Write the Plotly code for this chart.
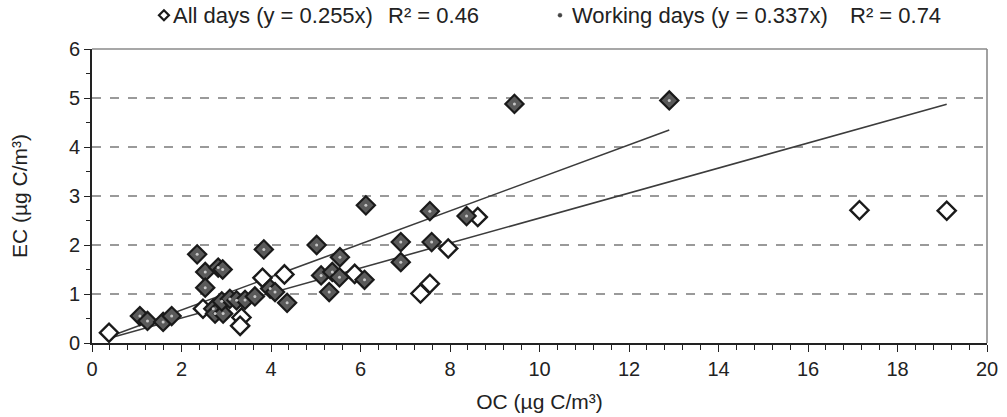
import plotly.graph_objects as go

# Working days (filled diamonds)
work_oc = [1.07, 1.24, 1.59, 1.78, 2.35, 2.53, 2.53, 2.82, 2.92, 2.71, 2.75, 2.93,
           2.90, 3.08, 3.23, 3.42, 3.64, 3.84, 3.98, 4.09, 4.36, 5.02, 5.12, 5.30,
           5.37, 5.54, 5.53, 6.09, 6.12, 6.90, 6.90, 7.55, 7.59, 8.37, 9.44, 12.90]
work_ec = [0.55, 0.45, 0.43, 0.55, 1.81, 1.45, 1.13, 1.54, 1.50, 0.70, 0.60, 0.60,
           0.85, 0.90, 0.87, 0.88, 0.95, 1.91, 1.11, 1.04, 0.82, 2.00, 1.38, 1.04,
           1.45, 1.75, 1.34, 1.29, 2.81, 2.06, 1.65, 2.69, 2.06, 2.59, 4.88, 4.95]

# Other (non-working) days (open diamonds)
other_oc = [0.38, 2.48, 2.85, 3.34, 3.31, 3.81, 4.30, 5.87, 7.34, 7.55, 7.96, 8.62, 17.15, 19.10]
other_ec = [0.21, 0.70, 0.78, 0.52, 0.35, 1.33, 1.40, 1.41, 1.01, 1.21, 1.93, 2.57, 2.71, 2.70]

slope_all = 0.255
slope_work = 0.337
r2_all = 0.46
r2_work = 0.74

x_ticks = [0, 2, 4, 6, 8, 10, 12, 14, 16, 18, 20]
y_ticks = [0, 1, 2, 3, 4, 5, 6]

all_oc = work_oc + other_oc
x_start = min(all_oc)
x_end_all = max(all_oc)
x_end_work = max(work_oc)

FONT = "Liberation Sans, Arial, sans-serif"
TXT = "#222222"

fig = go.Figure()

# trend lines
fig.add_trace(go.Scatter(x=[x_start, x_end_work], y=[slope_work * x_start, slope_work * x_end_work],
                         mode="lines", line=dict(color="#3c3c3c", width=1.6),
                         showlegend=False, hoverinfo="skip"))
fig.add_trace(go.Scatter(x=[x_start, x_end_all], y=[slope_all * x_start, slope_all * x_end_all],
                         mode="lines", line=dict(color="#3c3c3c", width=1.6),
                         showlegend=False, hoverinfo="skip"))

# open diamonds (days that are not working days)
fig.add_trace(go.Scatter(x=other_oc, y=other_ec, mode="markers", name="All days",
                         marker=dict(symbol="diamond", size=14, color="white",
                                     line=dict(color="#1a1a1a", width=2.4)),
                         showlegend=False))
# filled diamonds (working days)
fig.add_trace(go.Scatter(x=work_oc, y=work_ec, mode="markers", name="Working days",
                         marker=dict(symbol="diamond", size=14, color="#5a5a5a",
                                     line=dict(color="#1a1a1a", width=2.2)),
                         showlegend=False))
fig.add_trace(go.Scatter(x=work_oc, y=work_ec, mode="markers",
                         marker=dict(symbol="circle", size=3, color="#c8c8c8", line=dict(width=0)),
                         showlegend=False, hoverinfo="skip"))

# legend row above plot (text annotations + pixel-sized symbols)
LEG_Y = 1.115
leg_font = dict(family=FONT, size=22, color=TXT)
legend_texts = [
    (0.0882, f"All days (y = {slope_all}x)"),
    (0.328, f"R² = {r2_all}"),
    (0.5341, f"Working days (y = {slope_work}x)"),
    (0.8447, f"R² = {r2_work}"),
]
for xp, t in legend_texts:
    fig.add_annotation(x=xp, y=LEG_Y, xref="paper", yref="paper", text=t, showarrow=False,
                       xanchor="left", yanchor="middle", font=leg_font)

fig.add_shape(type="path", xref="paper", yref="paper", xsizemode="pixel", ysizemode="pixel",
              xanchor=0.0804, yanchor=LEG_Y, path="M -5 0 L 0 5 L 5 0 L 0 -5 Z",
              line=dict(color="#1a1a1a", width=2.2), fillcolor="white")
fig.add_shape(type="circle", xref="paper", yref="paper", xsizemode="pixel", ysizemode="pixel",
              xanchor=0.5229, yanchor=LEG_Y, x0=-2, x1=2, y0=-2, y1=2,
              line=dict(color="#444444", width=0.5), fillcolor="#444444")

fig.update_layout(
    width=1007, height=417,
    margin=dict(l=92, r=20, t=49, b=74),
    paper_bgcolor="white", plot_bgcolor="white",
    font=dict(family=FONT, size=20, color=TXT),
    showlegend=False,
    xaxis=dict(range=[0, 20], tickvals=x_ticks, ticks="outside", ticklen=7, tickwidth=1.3,
               tickcolor="#222", showline=True, linecolor="#222", linewidth=1.6,
               showgrid=False, zeroline=False, tickfont=dict(size=20), automargin=False,
               minor=dict(dtick=0.4, ticks="outside", ticklen=5, tickcolor="#222", showgrid=False),
               title=dict(text="OC (µg C/m³)", font=dict(size=21), standoff=16)),
    yaxis=dict(range=[0, 6], tickvals=y_ticks, ticks="outside", ticklen=6, tickwidth=1.3,
               tickcolor="#222", showline=True, linecolor="#222", linewidth=1.6,
               showgrid=True, gridcolor="#9a9a9a", griddash="dash", gridwidth=1.5,
               zeroline=False, tickfont=dict(size=20), automargin=False,
               minor=dict(dtick=0.5, ticks="outside", ticklen=4, tickcolor="#222", showgrid=False),
               title=dict(text="EC (µg C/m³)", font=dict(size=21), standoff=36)),
)

# top and right border (gray)
fig.add_shape(type="line", xref="paper", yref="paper", x0=0, x1=1, y0=1, y1=1,
              line=dict(color="#8a8a8a", width=1.6))
fig.add_shape(type="line", xref="paper", yref="paper", x0=1, x1=1, y0=0, y1=1,
              line=dict(color="#8a8a8a", width=1.6))

fig.write_html("out.html")
